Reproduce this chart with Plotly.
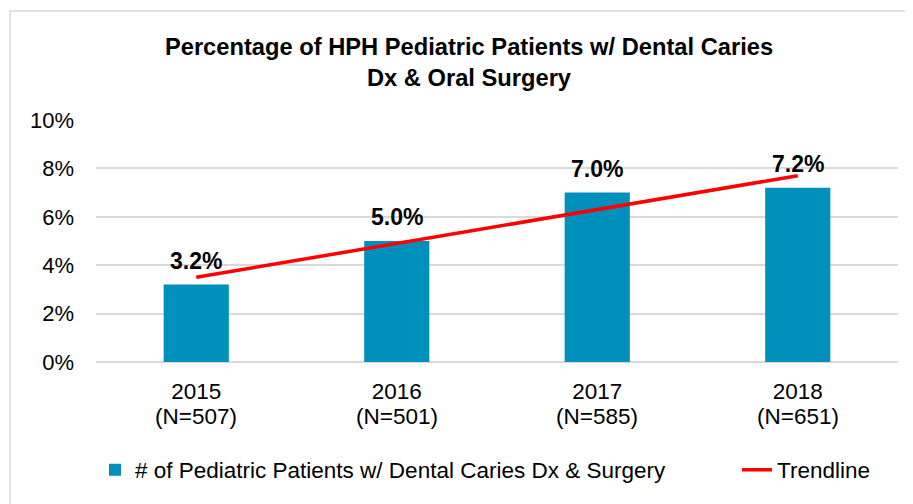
import plotly.graph_objects as go

years = ["2015", "2016", "2017", "2018"]
n_values = [507, 501, 585, 651]
pct_values = [3.2, 5.0, 7.0, 7.2]
trend_values = [3.5, 4.9, 6.3, 7.7]
y_ticks = [0, 2, 4, 6, 8, 10]
y_tick_text = [f"{v}%" for v in y_ticks]

positions = list(range(len(years)))

FONT = "Liberation Sans, Arial, sans-serif"
# page has an 8px body margin; figure coordinates = page coordinates - 8
OFF = 8
W, H = 905, 496
ML, MR, MT, MB = 88, 15, 112, 142
PW, PH = W - ML - MR, H - MT - MB


def px_x(page_x):
    return (page_x - OFF - ML) / PW


def px_y(page_y):
    return (H - MB - (page_y - OFF)) / PH


fig = go.Figure()
fig.add_trace(go.Bar(
    x=positions, y=pct_values,
    name="# of Pediatric Patients w/ Dental Caries Dx & Surgery",
    marker=dict(color="#0090BC", line=dict(width=0)),
    width=0.325, legend="legend",
))
fig.add_trace(go.Scatter(
    x=positions, y=trend_values, mode="lines",
    name="Trendline", legend="legend2",
    line=dict(color="#FF0000", width=3.5),
))

for p, v in zip(positions, pct_values):
    fig.add_annotation(
        x=p, y=v, text=f"<b>{v:.1f}%</b>", showarrow=False,
        yanchor="bottom", yshift=9,
        font=dict(family=FONT, size=23, color="#000000"),
    )

for p, n in zip(positions, n_values):
    fig.add_annotation(
        x=p, y=0, text=f"(N={n})", showarrow=False,
        yanchor="middle", yshift=-54,
        font=dict(family=FONT, size=22.5, color="#000000"),
    )

fig.add_shape(type="rect", xref="paper", yref="paper",
              x0=px_x(10), x1=px_x(940),
              y0=px_y(530), y1=px_y(11),
              line=dict(color="#D9D9D9", width=1.5), layer="below")

fig.update_layout(
    width=W, height=H,
    margin=dict(l=ML, r=MR, t=MT, b=MB),
    paper_bgcolor="white", plot_bgcolor="white",
    font=dict(family=FONT, size=22, color="#000000"),
    title=dict(
        text="<b>Percentage of HPH Pediatric Patients w/ Dental Caries<br>Dx & Oral Surgery</b>",
        x=(469 - OFF) / W, xanchor="center", xref="container",
        y=1 - (55 - OFF) / H, yanchor="middle", yref="container",
        font=dict(family=FONT, size=23.7, color="#000000"),
    ),
    showlegend=True,
    legend=dict(
        orientation="h", x=px_x(95), xanchor="left", xref="paper",
        y=px_y(470), yanchor="middle",
        font=dict(family=FONT, size=22.5, color="#000000"),
    ),
    legend2=dict(
        orientation="h", x=px_x(737), xanchor="left", xref="paper",
        y=px_y(470), yanchor="middle",
        font=dict(family=FONT, size=22.5, color="#000000"),
    ),
)
fig.update_xaxes(
    range=[-0.5, len(years) - 0.5],
    tickmode="array", tickvals=positions, ticktext=years,
    showgrid=False, showline=False, zeroline=False, ticks="",
    ticklabelstandoff=13,
    tickfont=dict(family=FONT, size=22.5, color="#000000"),
)
fig.update_yaxes(
    range=[0, 10], tickmode="array", tickvals=y_ticks, ticktext=y_tick_text,
    showgrid=True, gridcolor="#D9D9D9", gridwidth=1.5,
    zeroline=True, zerolinecolor="#D9D9D9", zerolinewidth=1.5,
    showline=False, ticklabelstandoff=21,
    tickfont=dict(family=FONT, size=22, color="#000000"),
)

fig.write_html("out.html")
